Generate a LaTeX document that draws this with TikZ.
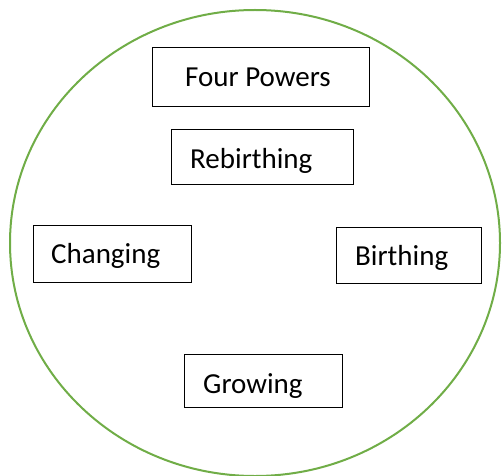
\documentclass[tikz,border=0pt]{standalone}
\usepackage{fontspec}
\setmainfont{Carlito}
\definecolor{ringgreen}{HTML}{70AD47}
\begin{document}
\begin{tikzpicture}[x=1pt,y=-1pt,
  box/.style={draw=black,line width=1pt,rectangle,inner sep=0pt},
  lbl/.style={anchor=base west,inner sep=0pt,font=\fontsize{29}{33}\selectfont}]
\useasboundingbox (0,0) rectangle (503,476);
\draw[ringgreen,line width=2pt] (255,243) ellipse [x radius=245, y radius=233];
% boxes
\node[box,minimum width=217pt,minimum height=59pt] (fourbox) at (260.5,77.5) {};
\node[box,minimum width=182pt,minimum height=54pt] (rebox) at (262,157) {};
\node[box,minimum width=158pt,minimum height=57pt] (chbox) at (112,253.5) {};
\node[box,minimum width=145pt,minimum height=56pt] (bibox) at (408.5,255) {};
\node[box,minimum width=158pt,minimum height=53pt] (grbox) at (263,380.5) {};
% labels
\node[lbl] (four) at (185,87) {Four Powers};
\node[lbl] (re) at (190,168) {Rebirthing};
\node[lbl] (ch) at (51,263) {Changing};
\node[lbl] (bi) at (355,265) {Birthing};
\node[lbl] (gr) at (203,393) {Growing};
\end{tikzpicture}
\end{document}
